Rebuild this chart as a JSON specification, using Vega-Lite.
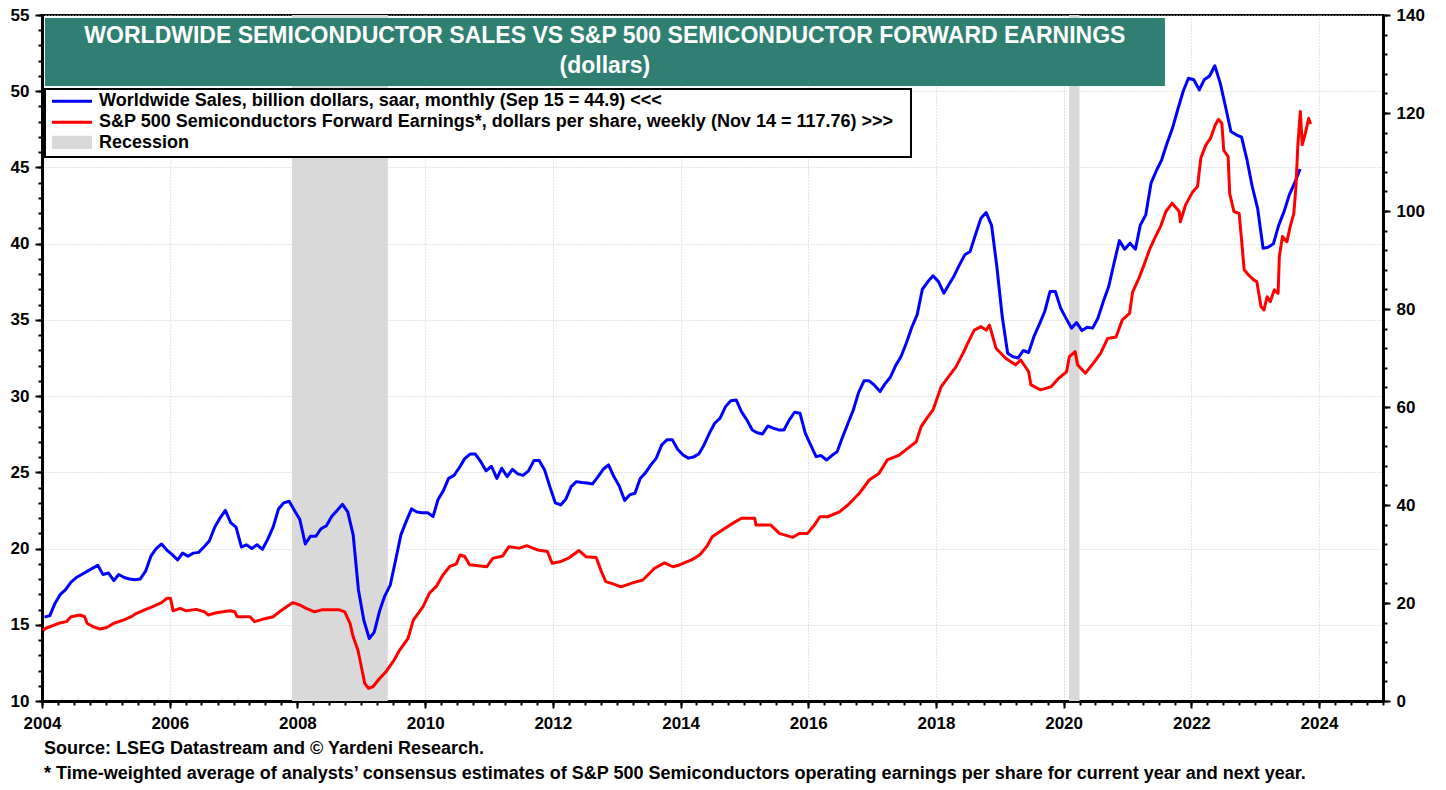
{
  "$schema": "https://vega.github.io/schema/vega-lite/v6.json",
  "autosize": "none",
  "width": 1341,
  "height": 686,
  "padding": {"left": 42, "top": 15, "right": 63, "bottom": 89},
  "background": "white",
  "title": {
    "text": ["Source: LSEG Datastream and © Yardeni Research.", "* Time-weighted average of analysts’ consensus estimates of S&P 500 Semiconductors operating earnings per share for current year and next year."],
    "orient": "bottom", "anchor": "start", "frame": "group",
    "font": "Liberation Sans", "fontSize": 18, "fontWeight": "bold", "color": "black",
    "lineHeight": 25, "offset": 9, "dx": 2
  },
  "datasets": {
    "sales": [
      {"date":"2004-01-15","v":15.5},{"date":"2004-02-15","v":15.6},{"date":"2004-03-15","v":16.4},{"date":"2004-04-15","v":17.0},{"date":"2004-05-15","v":17.3},{"date":"2004-06-15","v":17.8},{"date":"2004-07-15","v":18.1},{"date":"2004-08-15","v":18.3},{"date":"2004-09-15","v":18.5},{"date":"2004-10-15","v":18.7},{"date":"2004-11-15","v":18.9},{"date":"2004-12-15","v":18.3},
      {"date":"2005-01-15","v":18.4},{"date":"2005-02-15","v":17.9},{"date":"2005-03-15","v":18.3},{"date":"2005-04-15","v":18.1},{"date":"2005-05-15","v":18.0},{"date":"2005-06-15","v":17.95},{"date":"2005-07-15","v":18.0},{"date":"2005-08-15","v":18.5},{"date":"2005-09-15","v":19.5},{"date":"2005-10-15","v":20.0},{"date":"2005-11-15","v":20.3},{"date":"2005-12-15","v":19.9},
      {"date":"2006-01-15","v":19.6},{"date":"2006-02-15","v":19.25},{"date":"2006-03-15","v":19.7},{"date":"2006-04-15","v":19.5},{"date":"2006-05-15","v":19.7},{"date":"2006-06-15","v":19.75},{"date":"2006-07-15","v":20.1},{"date":"2006-08-15","v":20.5},{"date":"2006-09-15","v":21.4},{"date":"2006-10-15","v":22.0},{"date":"2006-11-15","v":22.5},{"date":"2006-12-15","v":21.7},
      {"date":"2007-01-15","v":21.4},{"date":"2007-02-15","v":20.1},{"date":"2007-03-15","v":20.25},{"date":"2007-04-15","v":20.0},{"date":"2007-05-15","v":20.25},{"date":"2007-06-15","v":19.95},{"date":"2007-07-15","v":20.6},{"date":"2007-08-15","v":21.4},{"date":"2007-09-15","v":22.6},{"date":"2007-10-15","v":23.0},{"date":"2007-11-15","v":23.1},{"date":"2007-12-15","v":22.5},
      {"date":"2008-01-15","v":21.9},{"date":"2008-02-15","v":20.3},{"date":"2008-03-15","v":20.8},{"date":"2008-04-15","v":20.8},{"date":"2008-05-15","v":21.3},{"date":"2008-06-15","v":21.5},{"date":"2008-07-15","v":22.1},{"date":"2008-08-15","v":22.5},{"date":"2008-09-15","v":22.9},{"date":"2008-10-15","v":22.4},{"date":"2008-11-15","v":20.9},{"date":"2008-12-15","v":17.3},
      {"date":"2009-01-15","v":15.3},{"date":"2009-02-15","v":14.1},{"date":"2009-03-15","v":14.5},{"date":"2009-04-15","v":15.9},{"date":"2009-05-15","v":16.9},{"date":"2009-06-15","v":17.6},{"date":"2009-07-15","v":19.2},{"date":"2009-08-15","v":20.9},{"date":"2009-09-15","v":21.8},{"date":"2009-10-15","v":22.6},{"date":"2009-11-15","v":22.4},{"date":"2009-12-15","v":22.35},
      {"date":"2010-01-15","v":22.35},{"date":"2010-02-15","v":22.1},{"date":"2010-03-15","v":23.2},{"date":"2010-04-15","v":23.8},{"date":"2010-05-15","v":24.6},{"date":"2010-06-15","v":24.8},{"date":"2010-07-15","v":25.3},{"date":"2010-08-15","v":25.9},{"date":"2010-09-15","v":26.2},{"date":"2010-10-15","v":26.2},{"date":"2010-11-15","v":25.7},{"date":"2010-12-15","v":25.1},
      {"date":"2011-01-15","v":25.4},{"date":"2011-02-15","v":24.6},{"date":"2011-03-15","v":25.27},{"date":"2011-04-15","v":24.72},{"date":"2011-05-15","v":25.2},{"date":"2011-06-15","v":24.9},{"date":"2011-07-15","v":24.8},{"date":"2011-08-15","v":25.1},{"date":"2011-09-15","v":25.77},{"date":"2011-10-15","v":25.77},{"date":"2011-11-15","v":25.16},{"date":"2011-12-15","v":24.06},
      {"date":"2012-01-15","v":23.0},{"date":"2012-02-15","v":22.86},{"date":"2012-03-15","v":23.23},{"date":"2012-04-15","v":24.06},{"date":"2012-05-15","v":24.39},{"date":"2012-06-15","v":24.33},{"date":"2012-07-15","v":24.3},{"date":"2012-08-15","v":24.24},{"date":"2012-09-15","v":24.7},{"date":"2012-10-15","v":25.2},{"date":"2012-11-15","v":25.49},{"date":"2012-12-15","v":24.72},
      {"date":"2013-01-15","v":24.1},{"date":"2013-02-15","v":23.15},{"date":"2013-03-15","v":23.52},{"date":"2013-04-15","v":23.63},{"date":"2013-05-15","v":24.6},{"date":"2013-06-15","v":24.98},{"date":"2013-07-15","v":25.49},{"date":"2013-08-15","v":25.93},{"date":"2013-09-15","v":26.8},{"date":"2013-10-15","v":27.13},{"date":"2013-11-15","v":27.13},{"date":"2013-12-15","v":26.51},
      {"date":"2014-01-15","v":26.14},{"date":"2014-02-15","v":25.93},{"date":"2014-03-15","v":26.0},{"date":"2014-04-15","v":26.21},{"date":"2014-05-15","v":26.8},{"date":"2014-06-15","v":27.57},{"date":"2014-07-15","v":28.22},{"date":"2014-08-15","v":28.55},{"date":"2014-09-15","v":29.31},{"date":"2014-10-15","v":29.7},{"date":"2014-11-15","v":29.75},{"date":"2014-12-15","v":28.98},
      {"date":"2015-01-15","v":28.44},{"date":"2015-02-15","v":27.78},{"date":"2015-03-15","v":27.6},{"date":"2015-04-15","v":27.52},{"date":"2015-05-15","v":28.04},{"date":"2015-06-15","v":27.9},{"date":"2015-07-15","v":27.78},{"date":"2015-08-15","v":27.78},{"date":"2015-09-15","v":28.44},{"date":"2015-10-15","v":28.94},{"date":"2015-11-15","v":28.88},{"date":"2015-12-15","v":27.57},
      {"date":"2016-01-15","v":26.8},{"date":"2016-02-15","v":26.03},{"date":"2016-03-15","v":26.1},{"date":"2016-04-15","v":25.81},{"date":"2016-05-15","v":26.1},{"date":"2016-06-15","v":26.36},{"date":"2016-07-15","v":27.3},{"date":"2016-08-15","v":28.2},{"date":"2016-09-15","v":29.09},{"date":"2016-10-15","v":30.23},{"date":"2016-11-15","v":31.0},{"date":"2016-12-15","v":31.0},
      {"date":"2017-01-15","v":30.7},{"date":"2017-02-15","v":30.3},{"date":"2017-03-15","v":30.8},{"date":"2017-04-15","v":31.24},{"date":"2017-05-15","v":32.0},{"date":"2017-06-15","v":32.6},{"date":"2017-07-15","v":33.47},{"date":"2017-08-15","v":34.5},{"date":"2017-09-15","v":35.33},{"date":"2017-10-15","v":37.01},{"date":"2017-11-15","v":37.5},{"date":"2017-12-15","v":37.89},
      {"date":"2018-01-15","v":37.51},{"date":"2018-02-15","v":36.75},{"date":"2018-03-15","v":37.3},{"date":"2018-04-15","v":37.9},{"date":"2018-05-15","v":38.61},{"date":"2018-06-15","v":39.27},{"date":"2018-07-15","v":39.48},{"date":"2018-08-15","v":40.6},{"date":"2018-09-15","v":41.67},{"date":"2018-10-15","v":42.04},{"date":"2018-11-15","v":41.2},{"date":"2018-12-15","v":38.5},
      {"date":"2019-01-15","v":35.2},{"date":"2019-02-15","v":32.81},{"date":"2019-03-15","v":32.6},{"date":"2019-04-15","v":32.49},{"date":"2019-05-15","v":32.99},{"date":"2019-06-15","v":32.86},{"date":"2019-07-15","v":33.9},{"date":"2019-08-15","v":34.7},{"date":"2019-09-15","v":35.55},{"date":"2019-10-15","v":36.86},{"date":"2019-11-15","v":36.86},{"date":"2019-12-15","v":35.77},
      {"date":"2020-01-15","v":35.1},{"date":"2020-02-15","v":34.46},{"date":"2020-03-15","v":34.82},{"date":"2020-04-15","v":34.3},{"date":"2020-05-15","v":34.52},{"date":"2020-06-15","v":34.46},{"date":"2020-07-15","v":35.11},{"date":"2020-08-15","v":36.2},{"date":"2020-09-15","v":37.19},{"date":"2020-10-15","v":38.7},{"date":"2020-11-15","v":40.2},{"date":"2020-12-15","v":39.64},
      {"date":"2021-01-15","v":40.03},{"date":"2021-02-15","v":39.64},{"date":"2021-03-15","v":41.23},{"date":"2021-04-15","v":41.89},{"date":"2021-05-15","v":43.97},{"date":"2021-06-15","v":44.8},{"date":"2021-07-15","v":45.5},{"date":"2021-08-15","v":46.6},{"date":"2021-09-15","v":47.58},{"date":"2021-10-15","v":48.8},{"date":"2021-11-15","v":50.0},{"date":"2021-12-15","v":50.85},
      {"date":"2022-01-15","v":50.75},{"date":"2022-02-15","v":50.09},{"date":"2022-03-15","v":50.75},{"date":"2022-04-15","v":51.0},{"date":"2022-05-15","v":51.67},{"date":"2022-06-15","v":50.53},{"date":"2022-07-15","v":49.0},{"date":"2022-08-15","v":47.36},{"date":"2022-09-15","v":47.14},{"date":"2022-10-15","v":46.99},{"date":"2022-11-15","v":45.5},{"date":"2022-12-15","v":43.75},
      {"date":"2023-01-15","v":42.3},{"date":"2023-02-15","v":39.7},{"date":"2023-03-15","v":39.76},{"date":"2023-04-15","v":39.99},{"date":"2023-05-15","v":41.2},{"date":"2023-06-15","v":42.1},{"date":"2023-07-15","v":43.2},{"date":"2023-08-15","v":44.0},{"date":"2023-09-15","v":44.9}
    ],
    "eps": [
      {"date":"2004-01-08","v":14.35},{"date":"2004-01-20","v":14.8},{"date":"2004-04-05","v":15.86},{"date":"2004-05-20","v":16.2},{"date":"2004-06-15","v":17.2},{"date":"2004-08-05","v":17.55},{"date":"2004-09-01","v":17.2},{"date":"2004-09-15","v":15.86},{"date":"2004-10-20","v":15.16},{"date":"2004-11-28","v":14.7},
      {"date":"2005-01-05","v":15.0},{"date":"2005-02-15","v":15.86},{"date":"2005-04-10","v":16.5},{"date":"2005-05-25","v":17.2},{"date":"2005-06-25","v":17.9},{"date":"2005-08-10","v":18.6},{"date":"2005-09-25","v":19.25},{"date":"2005-11-15","v":20.07},{"date":"2005-12-15","v":20.95},
      {"date":"2006-01-05","v":20.95},{"date":"2006-01-20","v":18.4},{"date":"2006-03-01","v":18.9},{"date":"2006-04-05","v":18.4},{"date":"2006-06-01","v":18.7},{"date":"2006-07-20","v":18.2},{"date":"2006-08-08","v":17.55},{"date":"2006-09-25","v":18.0},{"date":"2006-12-10","v":18.4},
      {"date":"2007-01-08","v":18.2},{"date":"2007-01-22","v":17.2},{"date":"2007-04-05","v":17.2},{"date":"2007-05-01","v":16.2},{"date":"2007-06-15","v":16.67},{"date":"2007-08-15","v":17.2},{"date":"2007-09-20","v":18.2},{"date":"2007-11-15","v":19.6},{"date":"2007-12-05","v":20.07},
      {"date":"2008-01-15","v":19.6},{"date":"2008-02-20","v":18.9},{"date":"2008-04-08","v":18.2},{"date":"2008-05-20","v":18.6},{"date":"2008-08-28","v":18.6},{"date":"2008-09-28","v":18.2},{"date":"2008-10-28","v":15.86},{"date":"2008-11-15","v":13.1},{"date":"2008-12-12","v":10.4},
      {"date":"2009-01-01","v":7.0},{"date":"2009-01-20","v":3.6},{"date":"2009-02-10","v":2.6},{"date":"2009-03-08","v":2.9},{"date":"2009-04-15","v":4.6},{"date":"2009-05-22","v":6.0},{"date":"2009-07-08","v":8.4},{"date":"2009-08-08","v":10.4},{"date":"2009-09-25","v":12.8},{"date":"2009-10-25","v":16.5},{"date":"2009-12-20","v":19.25},
      {"date":"2010-01-25","v":22.0},{"date":"2010-03-08","v":23.5},{"date":"2010-04-12","v":25.7},{"date":"2010-05-20","v":27.4},{"date":"2010-06-28","v":28.0},{"date":"2010-07-20","v":29.8},{"date":"2010-08-15","v":29.5},{"date":"2010-09-12","v":27.8},{"date":"2010-12-20","v":27.4},
      {"date":"2011-01-22","v":29.1},{"date":"2011-03-20","v":29.6},{"date":"2011-04-25","v":31.5},{"date":"2011-06-25","v":31.2},{"date":"2011-08-05","v":31.7},{"date":"2011-10-08","v":30.8},{"date":"2011-12-01","v":30.5},{"date":"2011-12-28","v":28.1},
      {"date":"2012-02-10","v":28.4},{"date":"2012-03-28","v":29.1},{"date":"2012-05-30","v":30.7},{"date":"2012-07-08","v":29.45},{"date":"2012-09-05","v":29.3},{"date":"2012-10-05","v":26.4},{"date":"2012-10-30","v":24.35},{"date":"2012-12-10","v":23.9},
      {"date":"2013-01-25","v":23.3},{"date":"2013-04-01","v":24.1},{"date":"2013-05-30","v":24.7},{"date":"2013-08-05","v":27.1},{"date":"2013-10-01","v":28.2},{"date":"2013-11-18","v":27.4},{"date":"2013-12-25","v":27.76},
      {"date":"2014-03-05","v":28.8},{"date":"2014-04-20","v":29.8},{"date":"2014-05-30","v":31.5},{"date":"2014-07-01","v":33.5},{"date":"2014-08-28","v":34.9},{"date":"2014-10-28","v":36.3},{"date":"2014-12-15","v":37.3},
      {"date":"2015-03-01","v":37.3},{"date":"2015-03-08","v":35.9},{"date":"2015-06-01","v":35.9},{"date":"2015-07-20","v":34.2},{"date":"2015-10-05","v":33.4},{"date":"2015-11-10","v":34.2},{"date":"2015-12-28","v":34.2},
      {"date":"2016-02-05","v":35.9},{"date":"2016-03-08","v":37.6},{"date":"2016-04-20","v":37.6},{"date":"2016-06-28","v":38.6},{"date":"2016-08-15","v":40.0},{"date":"2016-10-20","v":42.4},{"date":"2016-12-15","v":45.1},
      {"date":"2017-02-10","v":46.5},{"date":"2017-03-28","v":49.2},{"date":"2017-06-05","v":50.2},{"date":"2017-07-25","v":51.6},{"date":"2017-09-10","v":52.9},{"date":"2017-10-08","v":56.0},{"date":"2017-11-15","v":58.0},{"date":"2017-12-15","v":59.4},
      {"date":"2018-01-01","v":61.1},{"date":"2018-01-30","v":64.1},{"date":"2018-03-08","v":65.9},{"date":"2018-04-25","v":68.2},{"date":"2018-06-05","v":71.0},{"date":"2018-07-01","v":73.0},{"date":"2018-08-08","v":75.7},{"date":"2018-09-15","v":76.4},{"date":"2018-10-15","v":75.7},{"date":"2018-11-03","v":76.7},{"date":"2018-12-10","v":72.0},
      {"date":"2019-02-05","v":69.9},{"date":"2019-04-01","v":68.6},{"date":"2019-05-01","v":69.6},{"date":"2019-06-15","v":67.2},{"date":"2019-06-28","v":64.5},{"date":"2019-08-22","v":63.5},{"date":"2019-10-20","v":64.1},{"date":"2019-12-05","v":65.9},
      {"date":"2020-01-18","v":67.2},{"date":"2020-02-03","v":70.3},{"date":"2020-03-07","v":71.3},{"date":"2020-03-21","v":68.6},{"date":"2020-05-05","v":66.9},{"date":"2020-06-25","v":69.2},{"date":"2020-07-31","v":71.0},{"date":"2020-09-09","v":74.0},{"date":"2020-10-27","v":74.3},{"date":"2020-12-02","v":77.8},
      {"date":"2021-01-12","v":79.1},{"date":"2021-01-30","v":83.5},{"date":"2021-03-07","v":86.3},{"date":"2021-04-05","v":89.0},{"date":"2021-05-05","v":92.0},{"date":"2021-06-10","v":94.8},{"date":"2021-07-08","v":96.8},{"date":"2021-08-08","v":99.9},{"date":"2021-09-13","v":101.6},{"date":"2021-10-23","v":99.9},{"date":"2021-10-30","v":97.8},{"date":"2021-11-28","v":101.2},
      {"date":"2022-01-08","v":103.9},{"date":"2022-02-05","v":105.0},{"date":"2022-02-24","v":110.8},{"date":"2022-03-25","v":113.5},{"date":"2022-04-20","v":114.8},{"date":"2022-05-18","v":117.6},{"date":"2022-06-05","v":118.7},{"date":"2022-06-24","v":117.9},{"date":"2022-07-05","v":112.4},{"date":"2022-07-30","v":111.1},{"date":"2022-08-08","v":103.6},{"date":"2022-09-01","v":99.9},{"date":"2022-10-01","v":99.5},{"date":"2022-10-15","v":94.1},{"date":"2022-10-30","v":88.0},{"date":"2022-11-25","v":86.9},{"date":"2022-12-25","v":85.9},
      {"date":"2023-01-10","v":85.6},{"date":"2023-02-03","v":80.5},{"date":"2023-02-20","v":79.8},{"date":"2023-03-10","v":82.5},{"date":"2023-03-28","v":81.5},{"date":"2023-04-20","v":83.9},{"date":"2023-05-12","v":83.2},{"date":"2023-05-19","v":90.7},{"date":"2023-06-06","v":94.8},{"date":"2023-07-01","v":93.7},{"date":"2023-07-20","v":96.8},{"date":"2023-08-10","v":99.5},{"date":"2023-08-22","v":105.0},{"date":"2023-09-02","v":113.5},{"date":"2023-09-16","v":120.3},{"date":"2023-09-27","v":113.5},{"date":"2023-10-15","v":115.9},{"date":"2023-11-03","v":118.9},{"date":"2023-11-14","v":117.76}
    ],
    "recessions": [
      {"start":"2007-12-01","end":"2009-06-01"},
      {"start":"2020-02-01","end":"2020-04-01"}
    ]
  },
  "layer": [
    {
      "layer": [
        {
          "data": {"name": "recessions"},
          "mark": {"type": "rect", "color": "#d9d9d9"},
          "encoding": {
            "x": {"field": "start", "type": "temporal", "axis": null, "title": null,
                  "scale": {"domain": [{"year": 2004, "month": 1, "date": 1}, {"year": 2025, "month": 1, "date": 1}]}},
            "x2": {"field": "end"}
          }
        },
        {
          "data": {"name": "sales"},
          "mark": {"type": "line", "color": "#0000ff", "strokeWidth": 3, "strokeJoin": "round"},
          "encoding": {
            "x": {"field": "date", "type": "temporal", "title": null,
                  "scale": {"domain": [{"year": 2004, "month": 1, "date": 1}, {"year": 2025, "month": 1, "date": 1}]},
                  "axis": {"orient": "bottom", "values": [{"year":2004},{"year":2006},{"year":2008},{"year":2010},{"year":2012},{"year":2014},{"year":2016},{"year":2018},{"year":2020},{"year":2022},{"year":2024}],
                           "format": "%Y", "grid": true, "tickSize": 7, "labelPadding": 7, "labelFlush": false, "labelOverlap": false}},
            "y": {"field": "v", "type": "quantitative", "title": null,
                  "scale": {"domain": [10, 55], "nice": false, "zero": false},
                  "axis": {"orient": "left", "values": [10,15,20,25,30,35,40,45,50,55], "grid": true, "tickSize": 7, "labelPadding": 6}}
          }
        },
        {
          "data": {"values": [{}]},
          "mark": {"type": "rect", "color": "#2f7f72"},
          "encoding": {
            "x": {"datum": {"year": 2004, "month": 1, "date": 18}, "type": "temporal",
                  "axis": {"orient": "bottom", "tickCount": {"interval": "month", "step": 3}, "labels": false, "grid": false, "tickSize": 4}},
            "x2": {"datum": {"year": 2021, "month": 8, "date": 3}},
            "y": {"datum": 54.8, "type": "quantitative",
                  "axis": {"orient": "left", "values": [10,11,12,13,14,15,16,17,18,19,20,21,22,23,24,25,26,27,28,29,30,31,32,33,34,35,36,37,38,39,40,41,42,43,44,45,46,47,48,49,50,51,52,53,54,55], "labels": false, "grid": false, "tickSize": 4}},
            "y2": {"datum": 50.34}
          }
        },
        {
          "data": {"values": [{}]},
          "mark": {"type": "text", "text": "WORLDWIDE SEMICONDUCTOR SALES VS S&P 500 SEMICONDUCTOR FORWARD EARNINGS", "color": "white", "font": "Liberation Sans", "fontSize": 23, "fontWeight": "bold", "align": "center", "baseline": "middle"},
          "encoding": {
            "x": {"datum": {"year": 2012, "month": 10, "date": 25}, "type": "temporal", "axis": null},
            "y": {"datum": 53.64, "type": "quantitative", "axis": null}
          }
        },
        {
          "data": {"values": [{}]},
          "mark": {"type": "text", "text": "(dollars)", "color": "white", "font": "Liberation Sans", "fontSize": 23, "fontWeight": "bold", "align": "center", "baseline": "middle"},
          "encoding": {
            "x": {"datum": {"year": 2012, "month": 10, "date": 25}, "type": "temporal", "axis": null},
            "y": {"datum": 51.66, "type": "quantitative", "axis": null}
          }
        },
        {
          "data": {"values": [{}]},
          "mark": {"type": "rect", "fill": "white", "stroke": "black", "strokeWidth": 2},
          "encoding": {
            "x": {"datum": {"year": 2004, "month": 1, "date": 18}, "type": "temporal", "axis": null},
            "x2": {"datum": {"year": 2017, "month": 8, "date": 11}},
            "y": {"datum": 50.15, "type": "quantitative", "axis": null},
            "y2": {"datum": 45.69}
          }
        },
        {
          "data": {"values": [{}]},
          "mark": {"type": "rule", "color": "#0000ff", "strokeWidth": 3},
          "encoding": {
            "x": {"datum": {"year": 2004, "month": 2, "date": 27}, "type": "temporal", "axis": null},
            "x2": {"datum": {"year": 2004, "month": 10, "date": 13}},
            "y": {"datum": 49.34, "type": "quantitative", "axis": null}
          }
        },
        {
          "data": {"values": [{}]},
          "mark": {"type": "rule", "color": "#ff0000", "strokeWidth": 3},
          "encoding": {
            "x": {"datum": {"year": 2004, "month": 2, "date": 27}, "type": "temporal", "axis": null},
            "x2": {"datum": {"year": 2004, "month": 10, "date": 13}},
            "y": {"datum": 47.96, "type": "quantitative", "axis": null}
          }
        },
        {
          "data": {"values": [{}]},
          "mark": {"type": "rect", "color": "#d9d9d9"},
          "encoding": {
            "x": {"datum": {"year": 2004, "month": 2, "date": 27}, "type": "temporal", "axis": null},
            "x2": {"datum": {"year": 2004, "month": 10, "date": 13}},
            "y": {"datum": 47.08, "type": "quantitative", "axis": null},
            "y2": {"datum": 46.21}
          }
        },
        {
          "data": {"values": [{}]},
          "mark": {"type": "text", "text": "Worldwide Sales, billion dollars, saar, monthly (Sep 15 = 44.9) <<<", "color": "black", "font": "Liberation Sans", "fontSize": 18, "fontWeight": "bold", "align": "left", "baseline": "middle"},
          "encoding": {
            "x": {"datum": {"year": 2004, "month": 11, "date": 22}, "type": "temporal", "axis": null},
            "y": {"datum": 49.34, "type": "quantitative", "axis": null}
          }
        },
        {
          "data": {"values": [{}]},
          "mark": {"type": "text", "text": "S&P 500 Semiconductors Forward Earnings*, dollars per share, weekly (Nov 14 = 117.76) >>>", "color": "black", "font": "Liberation Sans", "fontSize": 18, "fontWeight": "bold", "align": "left", "baseline": "middle"},
          "encoding": {
            "x": {"datum": {"year": 2004, "month": 11, "date": 22}, "type": "temporal", "axis": null},
            "y": {"datum": 47.96, "type": "quantitative", "axis": null}
          }
        },
        {
          "data": {"values": [{}]},
          "mark": {"type": "text", "text": "Recession", "color": "black", "font": "Liberation Sans", "fontSize": 18, "fontWeight": "bold", "align": "left", "baseline": "middle"},
          "encoding": {
            "x": {"datum": {"year": 2004, "month": 11, "date": 22}, "type": "temporal", "axis": null},
            "y": {"datum": 46.63, "type": "quantitative", "axis": null}
          }
        }
      ],
      "resolve": {"axis": {"x": "independent", "y": "independent"}}
    },
    {
      "layer": [
        {
          "data": {"name": "eps"},
          "mark": {"type": "line", "color": "#ff0000", "strokeWidth": 3, "strokeJoin": "round"},
          "encoding": {
            "x": {"field": "date", "type": "temporal", "axis": null, "title": null},
            "y": {"field": "v", "type": "quantitative", "title": null,
                  "scale": {"domain": [0, 140], "nice": false, "zero": false},
                  "axis": {"orient": "right", "values": [0,20,40,60,80,100,120,140], "grid": false, "tickSize": 7, "labelPadding": 6}}
          }
        },
        {
          "data": {"values": [{}]},
          "mark": {"type": "rule", "opacity": 0},
          "encoding": {
            "y": {"datum": 0, "type": "quantitative",
                  "axis": {"orient": "right", "values": [0,4,8,12,16,20,24,28,32,36,40,44,48,52,56,60,64,68,72,76,80,84,88,92,96,100,104,108,112,116,120,124,128,132,136,140], "labels": false, "grid": false, "tickSize": 4}}
          }
        }
      ],
      "resolve": {"axis": {"y": "independent"}}
    }
  ],
  "resolve": {"scale": {"y": "independent"}, "axis": {"x": "independent"}},
  "config": {
    "font": "Liberation Sans",
    "view": {"stroke": "black", "strokeWidth": 2},
    "axis": {
      "labelFont": "Liberation Sans", "labelFontSize": 17, "labelFontWeight": "bold", "labelColor": "black",
      "domainColor": "black", "domainWidth": 3, "tickColor": "black", "tickWidth": 2,
      "gridColor": "#c8c8c8", "gridDash": [1, 2], "gridWidth": 1
    }
  }
}
